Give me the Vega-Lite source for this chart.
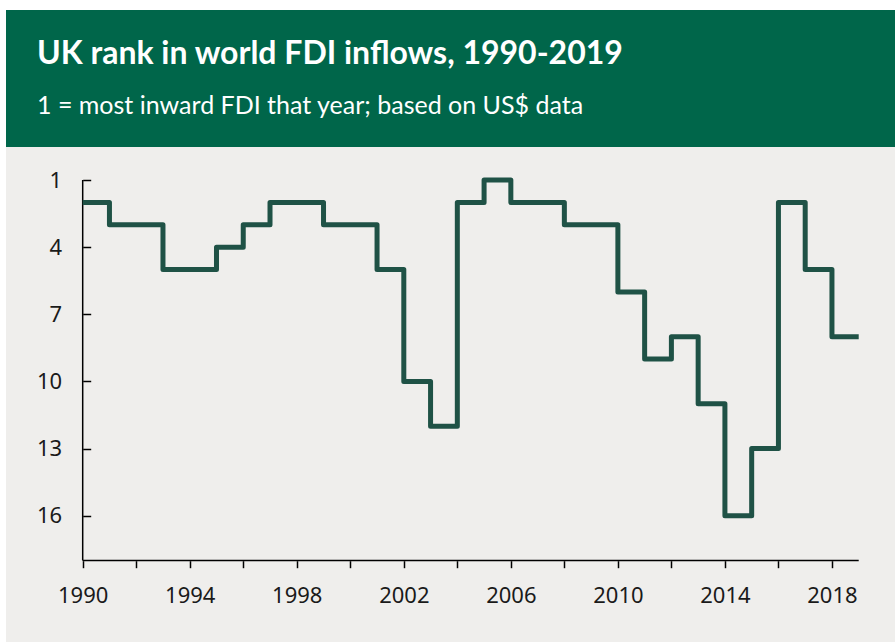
{
  "$schema": "https://vega.github.io/schema/vega-lite/v6.json",
  "background": "#ffffff",
  "padding": {"left": 6, "top": 10, "right": 0, "bottom": 0},
  "spacing": 0,
  "config": {"view": {"stroke": null}},
  "datasets": {
    "rank": [
      {"year": 1990, "rank": 2}, {"year": 1991, "rank": 3}, {"year": 1992, "rank": 3},
      {"year": 1993, "rank": 5}, {"year": 1994, "rank": 5}, {"year": 1995, "rank": 4},
      {"year": 1996, "rank": 3}, {"year": 1997, "rank": 2}, {"year": 1998, "rank": 2},
      {"year": 1999, "rank": 3}, {"year": 2000, "rank": 3}, {"year": 2001, "rank": 5},
      {"year": 2002, "rank": 10}, {"year": 2003, "rank": 12}, {"year": 2004, "rank": 2},
      {"year": 2005, "rank": 1}, {"year": 2006, "rank": 2}, {"year": 2007, "rank": 2},
      {"year": 2008, "rank": 3}, {"year": 2009, "rank": 3}, {"year": 2010, "rank": 6},
      {"year": 2011, "rank": 9}, {"year": 2012, "rank": 8}, {"year": 2013, "rank": 11},
      {"year": 2014, "rank": 16}, {"year": 2015, "rank": 13}, {"year": 2016, "rank": 2},
      {"year": 2017, "rank": 5}, {"year": 2018, "rank": 8}, {"year": 2019, "rank": 8}
    ],
    "axislines": [
      {"year": 1990, "year2": 2019, "rank": 18, "rank2": 18},
      {"year": 1990, "year2": 1990, "rank": 1, "rank2": 18}
    ]
  },
  "vconcat": [
    {
      "width": 889,
      "height": 137,
      "view": {"fill": "#00664a", "stroke": null},
      "data": {"values": [{}]},
      "mark": {"type": "point", "opacity": 0},
      "title": {
        "text": "UK rank in world FDI inflows, 1990-2019",
        "subtitle": "1 = most inward FDI that year; based on US$ data",
        "anchor": "start",
        "frame": "group",
        "orient": "top",
        "offset": -110,
        "dx": 31,
        "font": "Lato",
        "fontSize": 32,
        "fontWeight": "bold",
        "color": "#ffffff",
        "subtitleFont": "Lato",
        "subtitleFontSize": 25,
        "subtitleColor": "#ffffff",
        "subtitlePadding": 23
      }
    },
    {
      "width": 889,
      "height": 495,
      "view": {"fill": "#efeeec", "stroke": null},
      "layer": [
        {
          "data": {"name": "axislines"},
          "mark": {"type": "rule", "color": "#000000", "strokeWidth": 1.5},
          "encoding": {
            "x": {"field": "year", "type": "quantitative"},
            "x2": {"field": "year2"},
            "y": {"field": "rank", "type": "quantitative"},
            "y2": {"field": "rank2"}
          }
        },
        {
          "data": {"name": "rank"},
          "mark": {"type": "line", "interpolate": "step-after", "color": "#1f5246", "strokeWidth": 5, "strokeJoin": "round"},
          "encoding": {
            "x": {
              "field": "year", "type": "quantitative",
              "scale": {"domain": [1987.134, 2020.356], "nice": false, "zero": false},
              "axis": {
                "title": null, "domain": false, "grid": false,
                "values": [1990, 1992, 1994, 1996, 1998, 2000, 2002, 2004, 2006, 2008, 2010, 2012, 2014, 2016, 2018],
                "format": "d",
                "labelExpr": "datum.value % 4 == 2 ? datum.label : ''",
                "offset": -81.3,
                "tickSize": 7, "tickColor": "#000000", "tickWidth": 1.5,
                "labelPadding": 18, "labelFont": "Noto Sans", "labelFontSize": 22, "labelColor": "#1a1a1a",
                "labelFlush": false, "labelOverlap": false
              }
            },
            "y": {
              "field": "rank", "type": "quantitative",
              "scale": {"domain": [-0.4745, 21.64], "reverse": true, "nice": false, "zero": false},
              "axis": {
                "title": null, "domain": false, "grid": false,
                "values": [1, 4, 7, 10, 13, 16],
                "offset": -76.7,
                "tickSize": -8, "tickColor": "#000000", "tickWidth": 1.5,
                "labelPadding": 29, "labelFont": "Noto Sans", "labelFontSize": 22, "labelColor": "#1a1a1a",
                "labelFlush": false, "labelOverlap": false
              }
            }
          }
        }
      ]
    }
  ]
}
